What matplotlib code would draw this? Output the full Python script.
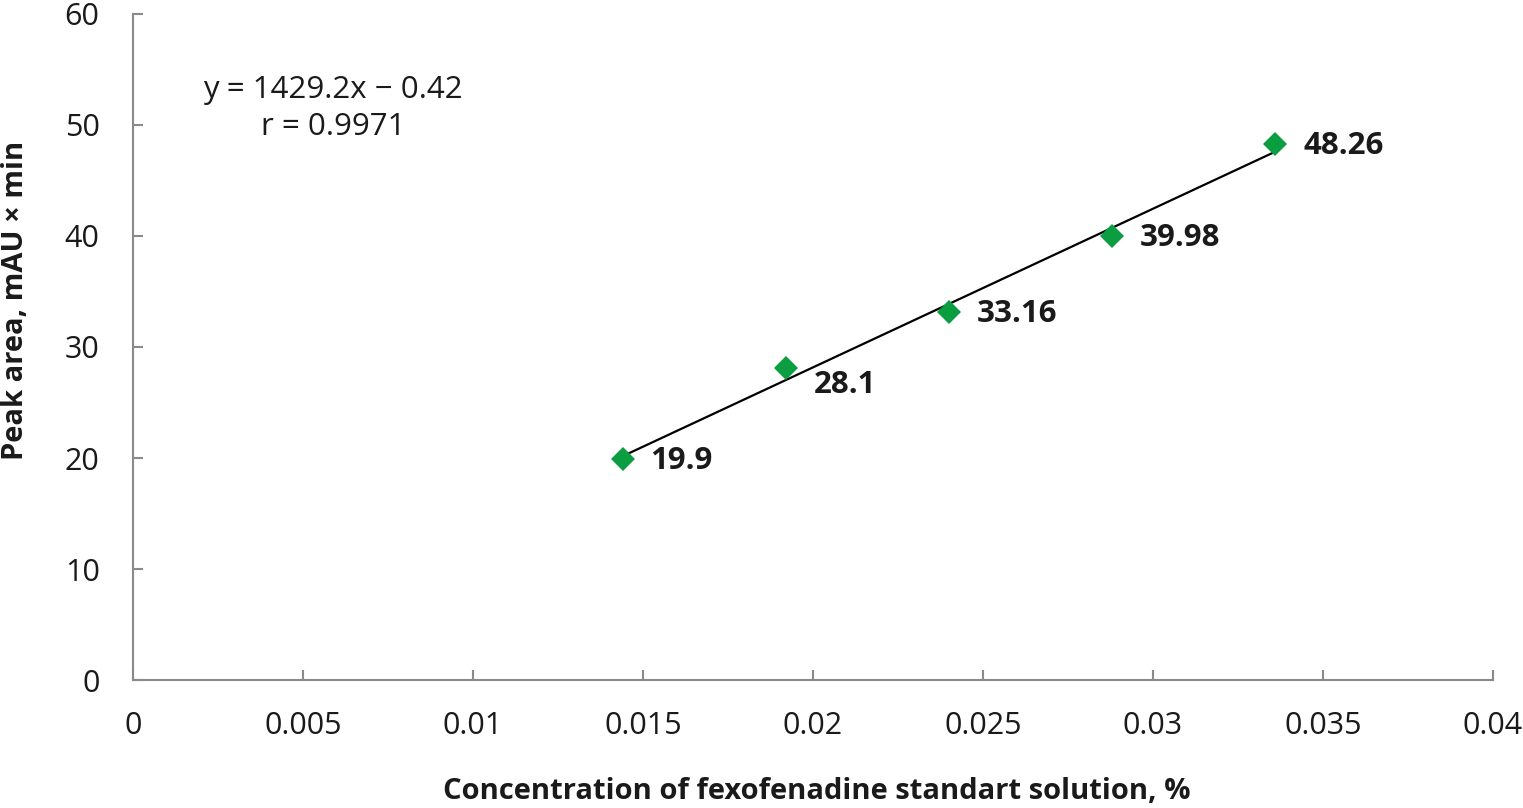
import matplotlib
matplotlib.use("Agg")
import matplotlib.pyplot as plt
import numpy as np

plt.rcParams['font.family'] = ['Open Sans', 'DejaVu Sans']

# data
conc = [0.0144, 0.0192, 0.024, 0.0288, 0.0336]
area = [19.9, 28.1, 33.16, 39.98, 48.26]
labels = ['19.9', '28.1', '33.16', '39.98', '48.26']
slope = 1429.2
intercept = -0.42
r_value = 0.9971
x_ticks = [0, 0.005, 0.01, 0.015, 0.02, 0.025, 0.03, 0.035, 0.04]
x_tick_labels = ['0', '0.005', '0.01', '0.015', '0.02', '0.025', '0.03', '0.035', '0.04']
y_ticks = [0, 10, 20, 30, 40, 50, 60]


def main():
    fig = plt.figure(figsize=(15.23, 8.08), dpi=100)
    ax = fig.add_axes([0.0873, 0.1584, 0.893, 0.8243])

    x = np.array(conc)
    fit_x = np.array([x.min(), x.max()])
    ax.plot(fit_x, slope * fit_x + intercept, color='black', lw=1.6, zorder=2)
    ax.plot(x, area, linestyle='none', marker='D', markersize=12.5,
            color='#0a9e40', markeredgewidth=0, zorder=3)

    # value labels
    for i, (xi, yi) in enumerate(zip(conc, area)):
        dy = -12 if labels[i] == '28.1' else -1.5
        ax.annotate(labels[i], (xi, yi), xytext=(20, dy), textcoords='offset points',
                    ha='left', va='center', fontsize=22.5, fontweight='bold', color='#1a1a1a')

    ax.text(0.147, 0.858, f"y = {slope}x \u2212 {abs(intercept)}\nr = {r_value}",
            transform=ax.transAxes, ha='center', va='center', fontsize=22.5,
            linespacing=1.3, color='#1a1a1a')

    ax.set_xlim(0, 0.04)
    ax.set_ylim(0, 60)
    ax.set_xticks(x_ticks)
    ax.set_xticklabels(x_tick_labels)
    ax.set_yticks(y_ticks)

    for side in ['top', 'right']:
        ax.spines[side].set_visible(False)
    for side in ['left', 'bottom']:
        ax.spines[side].set_color('#8a8a8a')
        ax.spines[side].set_linewidth(1.5)
    ax.tick_params(axis='both', direction='in', length=7, width=1.5,
                   color='#8a8a8a', labelsize=22, labelcolor='#1a1a1a')
    ax.tick_params(axis='x', pad=22)
    ax.tick_params(axis='y', pad=24)

    ax.set_xlabel('Concentration of fexofenadine standart solution, %',
                  fontsize=21, fontweight='bold', color='#1a1a1a')
    ax.xaxis.set_label_coords(0.503, -0.146)
    ax.set_ylabel('Peak area, mAU \u00d7 min', fontsize=21, fontweight='bold', color='#1a1a1a')
    ax.yaxis.set_label_coords(-0.076, 0.57)

    fig.savefig('out.png', dpi=100)


if __name__ == "__main__":
    main()
